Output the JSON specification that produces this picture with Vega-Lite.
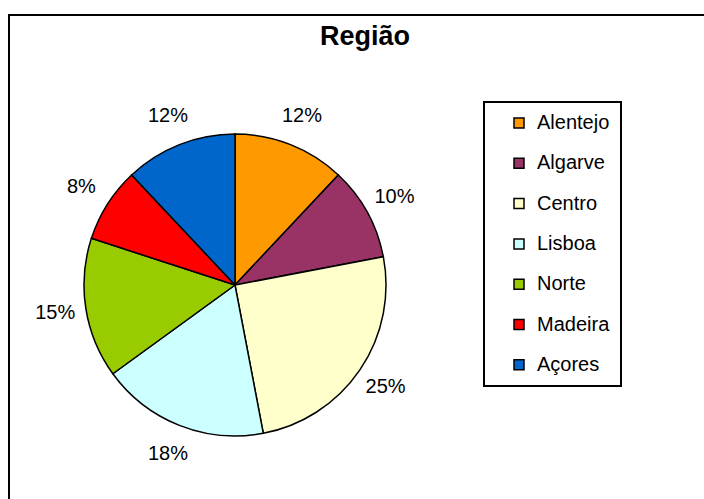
{
  "$schema": "https://vega.github.io/schema/vega-lite/v6.json",
  "autosize": "none",
  "width": 712,
  "height": 487,
  "padding": {"left": 9, "top": 15, "right": 0, "bottom": -3},
  "background": "white",
  "view": {"stroke": "black", "strokeWidth": 2, "fill": "white"},
  "config": {
    "font": "Liberation Sans",
    "legend": {"strokeWidth": 2, "symbolStrokeColor": "black", "symbolStrokeWidth": 1.5}
  },
  "title": {
    "text": "Região",
    "font": "Liberation Sans",
    "fontSize": 27,
    "fontWeight": "bold",
    "color": "black",
    "anchor": "middle",
    "dx": 0,
    "offset": -36
  },
  "data": {
    "values": [
      {"regiao": "Alentejo", "pct": 0.12},
      {"regiao": "Algarve", "pct": 0.10},
      {"regiao": "Centro", "pct": 0.25},
      {"regiao": "Lisboa", "pct": 0.18},
      {"regiao": "Norte", "pct": 0.15},
      {"regiao": "Madeira", "pct": 0.08},
      {"regiao": "Açores", "pct": 0.12}
    ]
  },
  "transform": [
    {"window": [{"op": "row_number", "as": "ordem"}]}
  ],
  "encoding": {
    "theta": {"field": "pct", "type": "quantitative", "stack": true},
    "order": {"field": "ordem", "type": "quantitative"}
  },
  "layer": [
    {
      "mark": {"type": "arc", "outerRadius": 151, "stroke": "black", "strokeWidth": 1.5, "xOffset": -130, "yOffset": 26.5},
      "encoding": {
        "color": {
          "field": "regiao",
          "type": "nominal",
          "scale": {
            "domain": ["Alentejo", "Algarve", "Centro", "Lisboa", "Norte", "Madeira", "Açores"],
            "range": ["#FF9900", "#993366", "#FFFFCC", "#CCFFFF", "#99CC00", "#FF0000", "#0066CC"]
          },
          "legend": {
            "title": null,
            "orient": "none",
            "legendX": 475,
            "legendY": 87,
            "padding": 11,
            "strokeColor": "black",
            "fillColor": "white",
            "symbolType": "square",
            "symbolSize": 100,
            "symbolStrokeColor": "black",
            "symbolStrokeWidth": 1.5,
            "symbolOpacity": 1,
            "symbolOffset": 14,
            "labelFont": "Liberation Sans",
            "labelFontSize": 20,
            "labelColor": "black",
            "labelOffset": 8,
            "rowPadding": 20.3,
            "encode": {
              "symbols": {
                "update": {
                  "stroke": {"value": "black"},
                  "strokeWidth": {"value": 1.5}
                }
              }
            }
          }
        }
      }
    },
    {
      "mark": {"type": "text", "radius": 182, "fontSize": 20, "font": "Liberation Sans", "color": "black", "align": "center", "baseline": "middle", "xOffset": -130, "yOffset": 26.5},
      "encoding": {
        "text": {"field": "pct", "type": "quantitative", "format": ".0%"}
      }
    }
  ]
}
